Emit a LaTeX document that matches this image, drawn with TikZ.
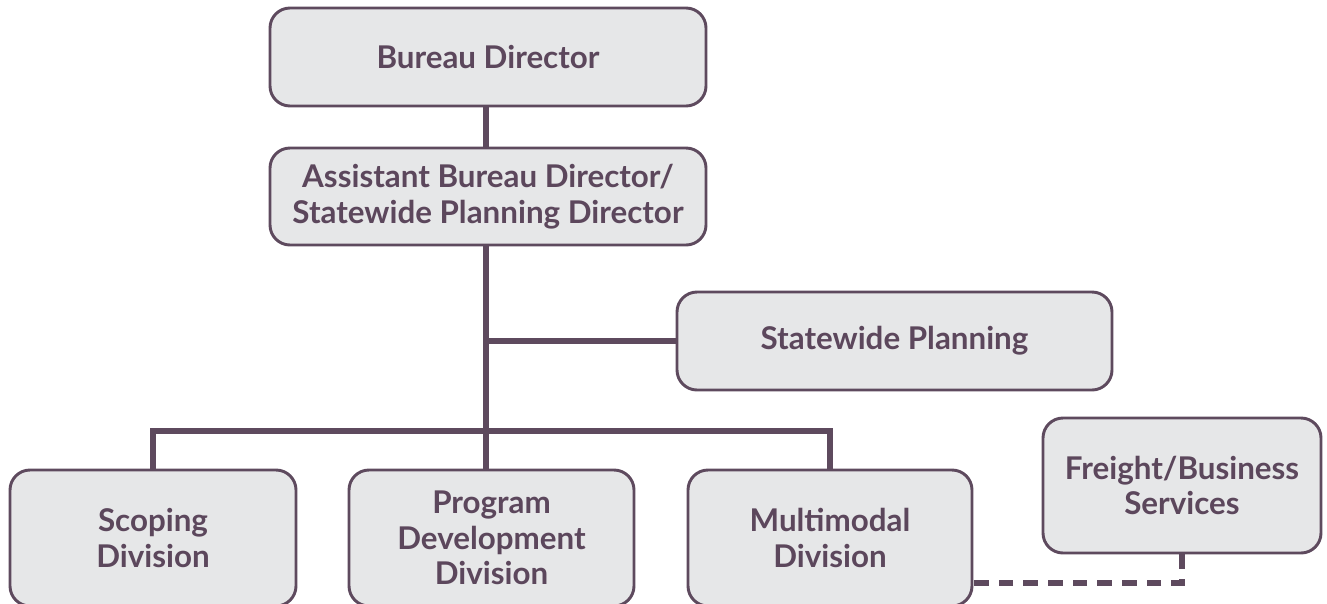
\documentclass[tikz,border=0pt]{standalone}
\usepackage{fontspec}
\setmainfont{Lato}
\definecolor{ln}{HTML}{5E4A5E}
\definecolor{bx}{HTML}{E6E7E8}
\definecolor{tx}{HTML}{5C475C}
\begin{document}
\begin{tikzpicture}[x=0.75pt,y=-0.75pt,
  box/.style={draw=ln,line width=2.2pt,fill=bx,rounded corners=15pt,
    text=tx,font=\fontsize{23.5}{26.6}\selectfont\bfseries,align=center,
    inner sep=0pt,anchor=center},
  conn/.style={draw=ln,line width=3.8pt},
  dsh/.style={draw=ln,line width=3.8pt,dash pattern=on 11pt off 7.5pt}]
\path[use as bounding box] (0,0) rectangle (1327,603);
\clip (0,0) rectangle (1327,603);
\coordinate (j) at (486,431);
\coordinate (d) at (972,583);
\node[box,minimum width=327pt,minimum height=73.5pt] (bd) at (488,57) {Bureau Director};
\node[box,minimum width=327pt,minimum height=72.75pt] (ast) at (488,196.5) {Assistant Bureau Director/\\Statewide Planning Director};
\node[box,minimum width=326.25pt,minimum height=73.5pt] (sp) at (894.5,341) {Statewide Planning};
\node[box,minimum width=214.5pt,minimum height=102pt] (sc) at (153,538) {Scoping\\Division};
\node[box,minimum width=213.75pt,minimum height=102pt] (pd) at (491.5,538) {Program\\Development\\Division};
\node[box,minimum width=213pt,minimum height=102pt] (mm) at (830,538) {Multimodal\\Division};
\node[box,minimum width=208.5pt,minimum height=101.25pt] (fr) at (1182,485.5) {Freight/Business\\Services};
\draw[conn] (bd.south -| j) -- (ast.north -| j);
\draw[conn] (ast.south -| j) -- (j);
\draw[conn] (j |- sp.west) -- (sp.west);
\draw[conn] (sc.north) |- (mm.north |- j) -- (mm.north);
\draw[conn] (j) -- (pd.north -| j);
\draw[dsh] (fr.south) |- (d);
\end{tikzpicture}
\end{document}
